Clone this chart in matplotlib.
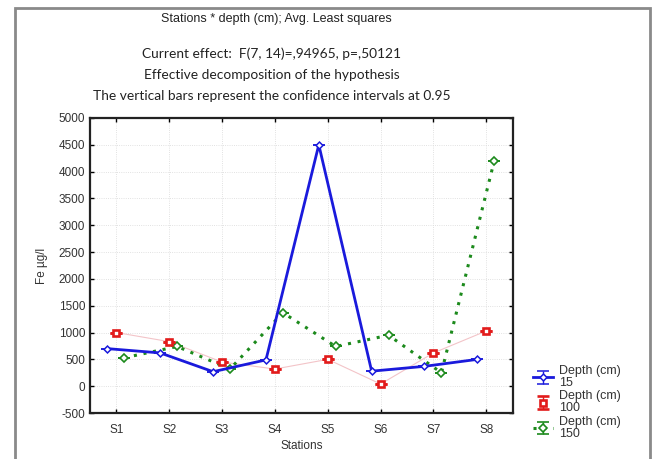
import numpy as np
import matplotlib
matplotlib.use("Agg")
import matplotlib.pyplot as plt
from matplotlib.patches import Rectangle

# Fe concentration (ug/l) by station and sampling depth, least-squares means
stations = ["S1", "S2", "S3", "S4", "S5", "S6", "S7", "S8"]
depth_15 = [700, 620, 270, 490, 4500, 280, 370, 500]
depth_100 = [1000, 830, 450, 320, 500, 40, 620, 1030]
depth_150 = [530, 740, 320, 1370, 740, 950, 250, 4200]
yticks = list(range(-500, 5001, 500))

plt.rcParams["font.family"] = ["Liberation Sans", "DejaVu Sans"]
plt.rcParams["axes.unicode_minus"] = False

fig = plt.figure(figsize=(6.54, 4.59), dpi=100)
ax = fig.add_axes([0.1376, 0.1002, 0.6464, 0.6428])

pos = np.arange(1, len(stations) + 1)
zero = np.zeros(len(stations))

ax.errorbar(pos - 0.17, depth_15, yerr=zero, color="#1a1adc", lw=2,
            marker="D", ms=3.5, mfc="white", mec="#1a1adc", mew=1.1,
            capsize=4, capthick=1, elinewidth=1, label="Depth (cm)\n15", zorder=4)
ax.errorbar(pos, depth_100, yerr=zero, color="#e21b1b", lw=0,
            marker="s", ms=5, mfc="white", mec="#e21b1b", mew=1.9,
            capsize=4, capthick=1, elinewidth=1, label="Depth (cm)\n100", zorder=5)
ax.plot(pos, depth_100, color="#f3c4c8", lw=0.8, zorder=2)
ax.errorbar(pos + 0.15, depth_150, yerr=zero, color="#1c8a1c", lw=2.2, ls=(0, (1, 2.2)),
            marker="D", ms=4.5, mfc="white", mec="#1c8a1c", mew=1.2,
            capsize=4, capthick=1, elinewidth=1, label="Depth (cm)\n150", zorder=3)

ax.set_xlim(0.5, 8.5)
ax.set_ylim(-500, 5000)
ax.set_xticks(pos)
ax.set_xticklabels(stations)
ax.set_yticks(yticks)
ax.tick_params(direction="in", length=3, width=1, labelsize=8.5, top=True, right=True,
               labeltop=False, labelright=False, labelcolor="#333333")
ax.tick_params(axis="x", pad=8)
ax.grid(True, color="#d8d8d8", lw=0.6, ls=":")
for s in ax.spines.values():
    s.set_linewidth(1.6)
    s.set_color("#222222")

ax.set_xlabel("Stations", fontsize=8.5, color="#333333", labelpad=3)
ax.set_ylabel("Fe µg/l", fontsize=8.5, color="#333333", labelpad=8)

leg = fig.legend(loc="upper left", bbox_to_anchor=(0.805, 0.218), frameon=False,
                 fontsize=9, handlelength=1.6, handletextpad=0.5,
                 labelspacing=0.1, borderpad=0)
for t in leg.get_texts():
    t.set_color("#333333")
    t.set_linespacing(1.0)

# header lines
fig.text(0.422, 0.958, "Stations * depth (cm); Avg. Least squares", ha="center", va="center",
         fontsize=9, color="#222222")
sub = ["Current effect:  F(7, 14)=,94965, p=,50121",
       "Effective decomposition of the hypothesis",
       "The vertical bars represent the confidence intervals at 0.95"]
for i, line in enumerate(sub):
    fig.text(0.415, 0.883 - i * 0.046, line, ha="center", va="center",
             fontsize=9.9, family=["Lato", "DejaVu Sans"], color="#222222")

# outer frame
fig.patches.append(Rectangle((0.023, -0.05), 0.971, 1.033, transform=fig.transFigure,
                             fill=False, ec="#8a8a8a", lw=2))

fig.savefig("out.png", dpi=100)
